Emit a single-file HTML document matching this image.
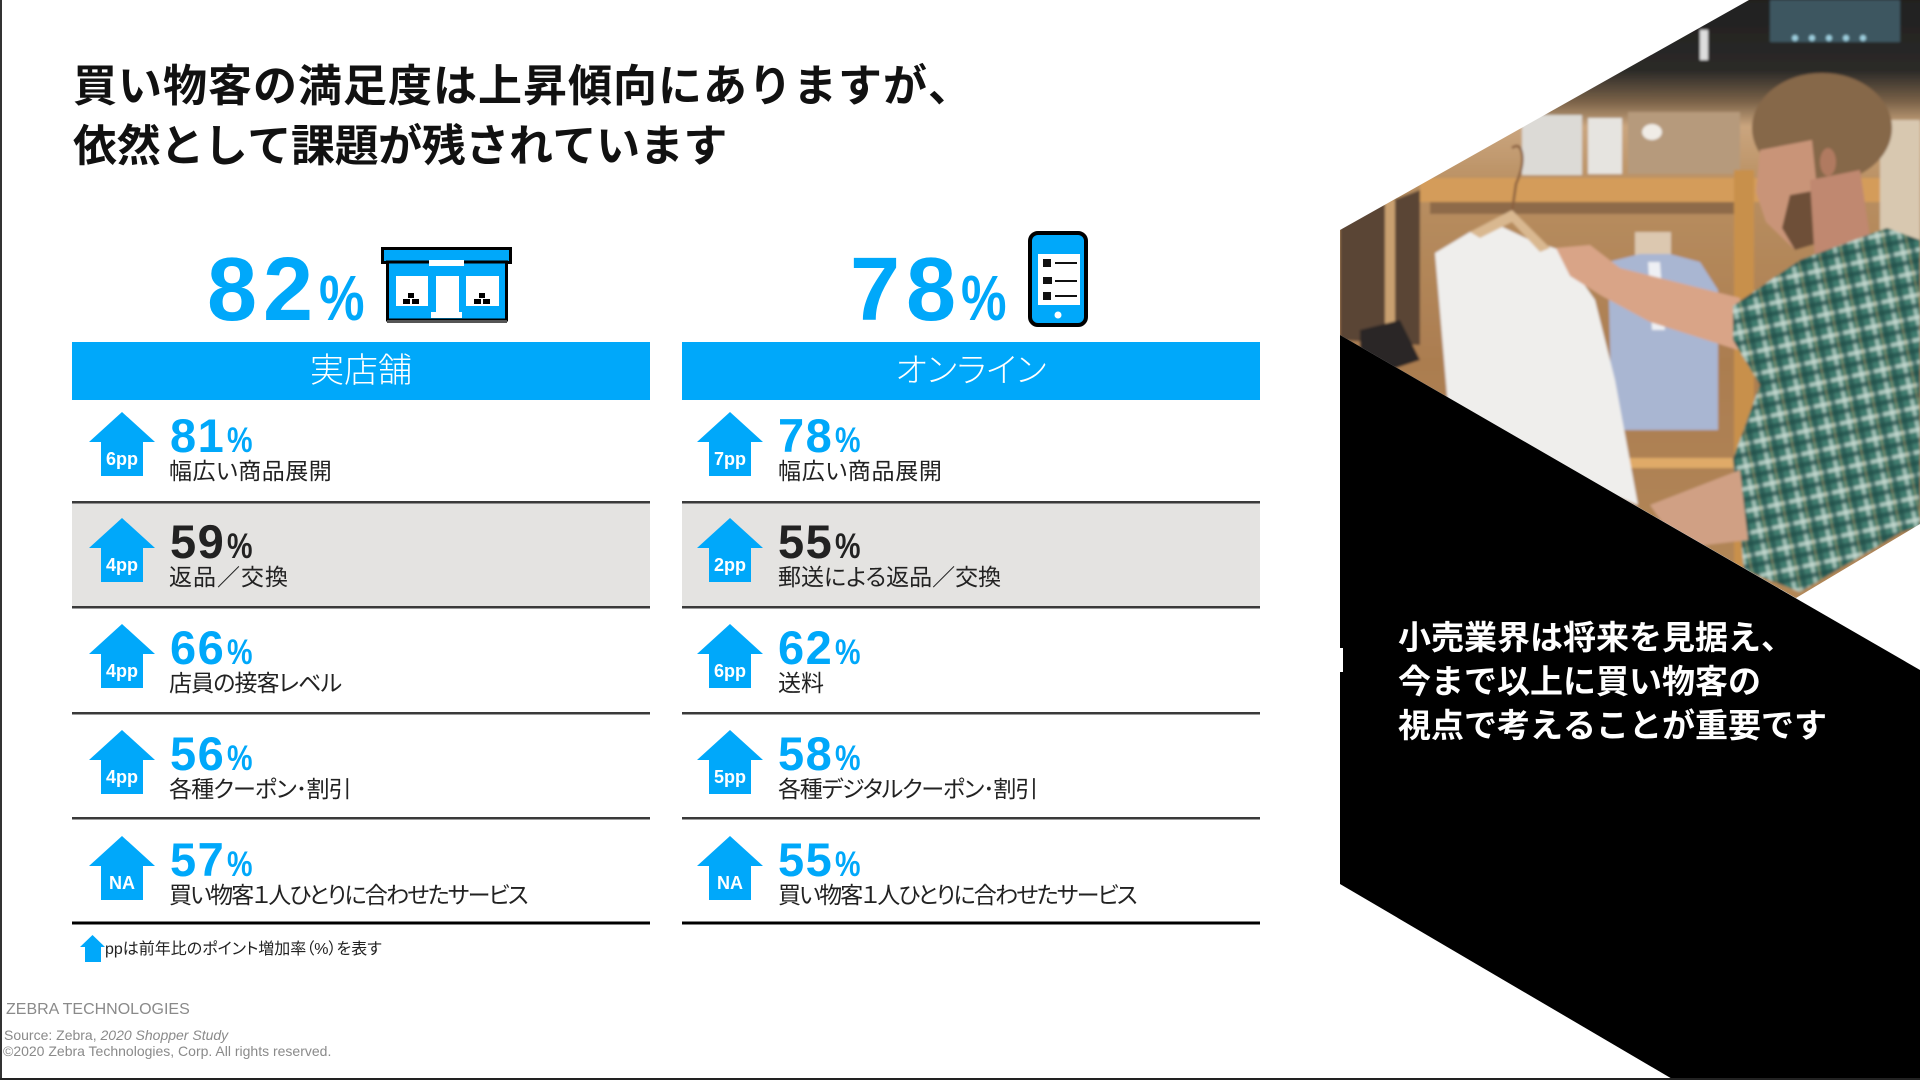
<!DOCTYPE html>
<html lang="ja">
<head>
<meta charset="utf-8">
<style>
html,body{margin:0;padding:0;background:#fff;}
body{width:1920px;height:1080px;position:relative;overflow:hidden;font-family:"Liberation Sans","Noto Sans CJK JP",sans-serif;}
.abs{position:absolute;white-space:nowrap;}
.title{left:73px;top:57px;font-size:44px;line-height:60px;font-weight:700;color:#111;font-family:"Liberation Sans","Noto Sans CJK JP",sans-serif;font-kerning:none;}
.title span{display:inline-block;width:45px;text-align:left;}
.title span.b{width:43.6px;}
.big{font:700 90px/88px "Liberation Sans",sans-serif;color:#00A8FA;letter-spacing:6px;top:246px;}
.bigp{font:700 64px/62px "Liberation Sans",sans-serif;color:#00A8FA;top:267px;transform:scaleX(.8);transform-origin:0 0;}
.hdr{top:342px;height:58px;width:578px;line-height:58px;text-align:center;color:#fff;font-size:34px;font-weight:300;font-family:"Liberation Sans","Noto Sans CJK JP",sans-serif;font-feature-settings:"palt";}
.pct{font:700 47px/47px "Liberation Sans",sans-serif;color:#00A8FA;letter-spacing:1.5px;}
.pct span{display:inline-block;font-weight:700;font-size:35px;transform:scaleX(.82);transform-origin:0 0;margin-left:2px;letter-spacing:0;}
.dark{color:#222;}
.lbl{font-size:23px;line-height:30px;color:#222;font-family:"Liberation Sans","Noto Sans CJK JP",sans-serif;font-feature-settings:"palt";}
.note{left:105px;top:940px;font-size:16px;line-height:20px;color:#222;font-family:"Liberation Sans","Noto Sans CJK JP",sans-serif;font-feature-settings:"palt";}
.foot{color:#8a8a8a;font-family:"Liberation Sans",sans-serif;}
.side{left:1398px;top:616px;font-size:33px;line-height:44px;font-weight:700;color:#fff;font-family:"Liberation Sans","Noto Sans CJK JP",sans-serif;font-kerning:none;}
</style>
</head>
<body>
<svg width="1920" height="1080" viewBox="0 0 1920 1080" style="position:absolute;left:0;top:0">
<defs>
  <clipPath id="pc"><polygon points="1749,0 1920,0 1920,524 1796,598 1340,335 1340,230"/></clipPath>
  <filter id="bl" x="-5%" y="-5%" width="110%" height="110%"><feGaussianBlur stdDeviation="1.2"/></filter>
  <linearGradient id="bg" x1="0" y1="0" x2="0" y2="1">
    <stop offset="0" stop-color="#1f1e1e"/>
    <stop offset="0.13" stop-color="#2b2a28"/>
    <stop offset="0.18" stop-color="#7a6248"/>
    <stop offset="0.22" stop-color="#caa57e"/>
    <stop offset="0.32" stop-color="#b88e60"/>
    <stop offset="0.6" stop-color="#ab7d50"/>
    <stop offset="1" stop-color="#b38858"/>
  </linearGradient>
  <pattern id="plaid" width="22" height="22" patternUnits="userSpaceOnUse" patternTransform="rotate(-12)">
    <rect width="22" height="22" fill="#3f7c6e"/>
    <rect y="3" width="22" height="4" fill="#cfe0d8" opacity=".75"/>
    <rect x="3" width="4" height="22" fill="#cfe0d8" opacity=".65"/>
    <rect y="13" width="22" height="5" fill="#234f4a" opacity=".7"/>
    <rect x="13" width="5" height="22" fill="#234f4a" opacity=".6"/>
    <rect x="10" width="1.5" height="22" fill="#c9a060" opacity=".5"/>
  </pattern>
</defs>

<rect x="0" y="0" width="2" height="1080" fill="#333"/>

<!-- store icon -->
<rect x="382.5" y="248.5" width="128" height="14" fill="#00A8FA" stroke="#000" stroke-width="3"/>
<rect x="387.5" y="262" width="119" height="58" fill="#00A8FA" stroke="#000" stroke-width="3"/>
<rect x="387" y="320" width="120" height="3" fill="#555"/>
<rect x="429" y="260" width="35" height="6" fill="#fff"/>
<rect x="396" y="276" width="32" height="30" fill="#fff"/>
<rect x="466" y="276" width="33" height="30" fill="#fff"/>
<rect x="436" y="276" width="23" height="42" fill="#fff"/>
<rect x="431" y="312" width="31" height="6" fill="#fff"/>
<rect x="408" y="293" width="6" height="5" fill="#000"/>
<rect x="403" y="299" width="7" height="5" fill="#000"/>
<rect x="412" y="299" width="7" height="5" fill="#000"/>
<rect x="479" y="293" width="6" height="5" fill="#000"/>
<rect x="474" y="299" width="7" height="5" fill="#000"/>
<rect x="483" y="299" width="7" height="5" fill="#000"/>

<!-- phone -->
<rect x="1030" y="233" width="56" height="92" rx="8" fill="#00A8FA" stroke="#000" stroke-width="4"/>
<rect x="1038" y="254" width="42" height="51" fill="#fff"/>
<circle cx="1058" cy="315" r="3.5" fill="#fff"/>
<rect x="1043" y="259" width="8" height="8" fill="#111"/>
<rect x="1043" y="277" width="9" height="7" fill="#111"/>
<rect x="1043" y="292" width="8" height="8" fill="#111"/>
<rect x="1055" y="262" width="22" height="2" fill="#111"/>
<rect x="1055" y="280" width="22" height="2" fill="#111"/>
<rect x="1055" y="295" width="22" height="2" fill="#111"/>

<!-- header bars -->
<rect x="72" y="342" width="578" height="58" fill="#00A8FA"/>
<rect x="682" y="342" width="578" height="58" fill="#00A8FA"/>

<!-- gray rows -->
<rect x="72" y="503" width="578" height="103" fill="#E4E3E1"/>
<rect x="682" y="503" width="578" height="103" fill="#E4E3E1"/>

<!-- separators -->
<g fill="#3a3a3a">
  <rect x="72" y="501" width="578" height="2.5"/><rect x="682" y="501" width="578" height="2.5"/>
  <rect x="72" y="606" width="578" height="2.5"/><rect x="682" y="606" width="578" height="2.5"/>
  <rect x="72" y="712" width="578" height="2.5"/><rect x="682" y="712" width="578" height="2.5"/>
  <rect x="72" y="817" width="578" height="2.5"/><rect x="682" y="817" width="578" height="2.5"/>
</g>
<rect x="72" y="921.5" width="578" height="3" fill="#000"/>
<rect x="682" y="921.5" width="578" height="3" fill="#000"/>

<!-- arrows -->
<g fill="#00A8FA">
  <polygon points="122,412 155,442 143,442 143,476 101,476 101,442 89,442"/>
  <polygon points="122,518 155,548 143,548 143,582 101,582 101,548 89,548"/>
  <polygon points="122,624 155,654 143,654 143,688 101,688 101,654 89,654"/>
  <polygon points="122,730 155,760 143,760 143,794 101,794 101,760 89,760"/>
  <polygon points="122,836 155,866 143,866 143,900 101,900 101,866 89,866"/>
  <polygon points="730,412 763,442 751,442 751,476 709,476 709,442 697,442"/>
  <polygon points="730,518 763,548 751,548 751,582 709,582 709,548 697,548"/>
  <polygon points="730,624 763,654 751,654 751,688 709,688 709,654 697,654"/>
  <polygon points="730,730 763,760 751,760 751,794 709,794 709,760 697,760"/>
  <polygon points="730,836 763,866 751,866 751,900 709,900 709,866 697,866"/>
  <polygon points="92.5,935 105,947 101,947 101,962 85,962 85,947 80,947"/>
</g>
<g fill="#fff" font-family="'Liberation Sans Narrow','Liberation Sans',sans-serif" font-weight="700" font-size="18" text-anchor="middle">
  <text x="122" y="465">6pp</text>
  <text x="122" y="571">4pp</text>
  <text x="122" y="677">4pp</text>
  <text x="122" y="783">4pp</text>
  <text x="122" y="889">NA</text>
  <text x="730" y="465">7pp</text>
  <text x="730" y="571">2pp</text>
  <text x="730" y="677">6pp</text>
  <text x="730" y="783">5pp</text>
  <text x="730" y="889">NA</text>
</g>

<!-- photo -->
<g clip-path="url(#pc)">
 <g filter="url(#bl)">
  <rect x="1320" y="-10" width="610" height="620" fill="url(#bg)"/>
  <rect x="1770" y="0" width="130" height="42" fill="#3d5660"/>
  <g fill="#9fd0e0"><circle cx="1795" cy="38" r="3"/><circle cx="1812" cy="38" r="3"/><circle cx="1829" cy="38" r="3"/><circle cx="1846" cy="38" r="3"/><circle cx="1863" cy="38" r="3"/></g>
  <rect x="1700" y="30" width="8" height="30" fill="#ddd"/>
  <rect x="1522" y="115" width="60" height="60" fill="#dcdad6"/>
  <rect x="1588" y="118" width="34" height="56" fill="#e6e4e0"/>
  <rect x="1628" y="112" width="112" height="62" fill="#b69a7c"/>
  <ellipse cx="1652" cy="132" rx="10" ry="8" fill="#f0ece6"/>
  <rect x="1420" y="178" width="500" height="24" fill="#d49c5a"/>
  <rect x="1430" y="202" width="310" height="12" fill="#8e6a48"/>
  <polygon points="1340,220 1420,190 1420,345 1340,340" fill="#5a4535"/>
  <rect x="1385" y="200" width="10" height="130" fill="#c9a070"/>
  <rect x="1734" y="170" width="20" height="400" fill="#c8904c"/>
  <rect x="1620" y="458" width="115" height="10" fill="#e0aa68"/>
  <rect x="1880" y="120" width="40" height="120" fill="#d8c8b0"/>
  <rect x="1635" y="232" width="36" height="32" fill="#dcc8b0"/>
  <polygon points="1608,262 1640,254 1670,254 1700,262 1718,290 1718,430 1612,430" fill="#a9b6d2"/>
  <polygon points="1648,262 1660,262 1665,330 1652,330" fill="#eef0f4"/>
  <polygon points="1360,330 1400,320 1420,360 1360,380" fill="#2a2628"/>
  <path d="M1512,148 q8,-6 10,6 q2,12 -6,30 l-4,28" stroke="#8a6040" stroke-width="2.5" fill="none"/>
  <polygon points="1435,253 1470,232 1492,222 1530,240 1560,250 1595,300 1615,380 1638,505 1450,430" fill="#efeeec"/>
  <polygon points="1470,232 1512,210 1550,248 1540,252 1512,222 1480,238" fill="#d9b890"/>
  <polygon points="1556,248 1590,245 1620,268 1740,298 1738,350 1650,322 1602,296 1570,276" fill="#d9a487"/>
  <ellipse cx="1822" cy="128" rx="70" ry="55" fill="#86684a"/>
  <polygon points="1760,150 1812,140 1822,238 1795,250 1766,222 1756,192" fill="#c99478"/>
  <polygon points="1790,195 1818,190 1822,242 1795,250 1782,228" fill="#6e5038"/>
  <polygon points="1810,180 1860,170 1872,250 1815,262" fill="#c08870"/>
  <ellipse cx="1828" cy="162" rx="8" ry="14" fill="#b07a60"/>
  <polygon points="1733,306 1800,260 1887,228 1920,240 1920,526 1902,532 1800,592 1744,570 1733,459 1760,385 1733,340" fill="url(#plaid)"/>
  <polygon points="1650,505 1740,470 1748,540 1680,548" fill="#d0a084"/>
 </g>
</g>

<!-- black panel -->
<polygon points="1340,335 1920,670 1920,1080 1674,1080 1340,884" fill="#000"/>
<rect x="1340" y="648" width="3" height="24" fill="#fff"/>

<rect x="0" y="1078" width="1920" height="2" fill="#222"/>
</svg>

<div class="abs title"><span>買</span><span>い</span><span>物</span><span>客</span><span>の</span><span>満</span><span>足</span><span>度</span><span>は</span><span>上</span><span>昇</span><span>傾</span><span>向</span><span>に</span><span>あ</span><span>り</span><span>ま</span><span>す</span><span>が</span><span>、</span><br><span class="b">依</span><span class="b">然</span><span class="b">と</span><span class="b">し</span><span class="b">て</span><span class="b">課</span><span class="b">題</span><span class="b">が</span><span class="b">残</span><span class="b">さ</span><span class="b">れ</span><span class="b">て</span><span class="b">い</span><span class="b">ま</span><span class="b">す</span></div>

<div class="abs big" style="left:207px">82</div>
<div class="abs bigp" style="left:319px">%</div>
<div class="abs big" style="left:850px">78</div>
<div class="abs bigp" style="left:961px">%</div>

<div class="abs hdr" style="left:72px">実店舗</div>
<div class="abs hdr" style="left:682px">オンライン</div>

<!-- left column -->
<div class="abs pct" style="left:170px;top:412px">81<span>%</span></div>
<div class="abs lbl" style="left:169px;top:456px;letter-spacing:0.5px">幅広い商品展開</div>
<div class="abs pct dark" style="left:170px;top:518px">59<span>%</span></div>
<div class="abs lbl" style="left:169px;top:562px;letter-spacing:1px">返品／交換</div>
<div class="abs pct" style="left:170px;top:624px">66<span>%</span></div>
<div class="abs lbl" style="left:169px;top:668px;letter-spacing:-0.9px">店員の接客レベル</div>
<div class="abs pct" style="left:170px;top:730px">56<span>%</span></div>
<div class="abs lbl" style="left:169px;top:774px;letter-spacing:-0.85px">各種クーポン･割引</div>
<div class="abs pct" style="left:170px;top:836px">57<span>%</span></div>
<div class="abs lbl" style="left:169px;top:880px;letter-spacing:-1.8px">買い物客１人ひとりに合わせたサービス</div>

<!-- right column -->
<div class="abs pct" style="left:778px;top:412px">78<span>%</span></div>
<div class="abs lbl" style="left:778px;top:456px;letter-spacing:0.7px">幅広い商品展開</div>
<div class="abs pct dark" style="left:778px;top:518px">55<span>%</span></div>
<div class="abs lbl" style="left:778px;top:562px">郵送による返品／交換</div>
<div class="abs pct" style="left:778px;top:624px">62<span>%</span></div>
<div class="abs lbl" style="left:778px;top:668px">送料</div>
<div class="abs pct" style="left:778px;top:730px">58<span>%</span></div>
<div class="abs lbl" style="left:778px;top:774px;letter-spacing:-1.2px">各種デジタルクーポン･割引</div>
<div class="abs pct" style="left:778px;top:836px">55<span>%</span></div>
<div class="abs lbl" style="left:778px;top:880px;letter-spacing:-1.8px">買い物客１人ひとりに合わせたサービス</div>

<div class="abs note">ppは前年比のポイント増加率（%）を表す</div>

<div class="abs foot" style="left:6px;top:1002px;font-size:16px;line-height:16px">ZEBRA TECHNOLOGIES</div>
<div class="abs foot" style="left:4px;top:1028px;font-size:14px;line-height:14px">Source: Zebra, <i>2020 Shopper Study</i></div>
<div class="abs foot" style="left:3px;top:1044px;font-size:14px;line-height:14px">©2020 Zebra Technologies, Corp. All rights reserved.</div>

<div class="abs side">小売業界は将来を見据え、<br>今まで以上に買い物客の<br>視点で考えることが重要です</div>
</body>
</html>
